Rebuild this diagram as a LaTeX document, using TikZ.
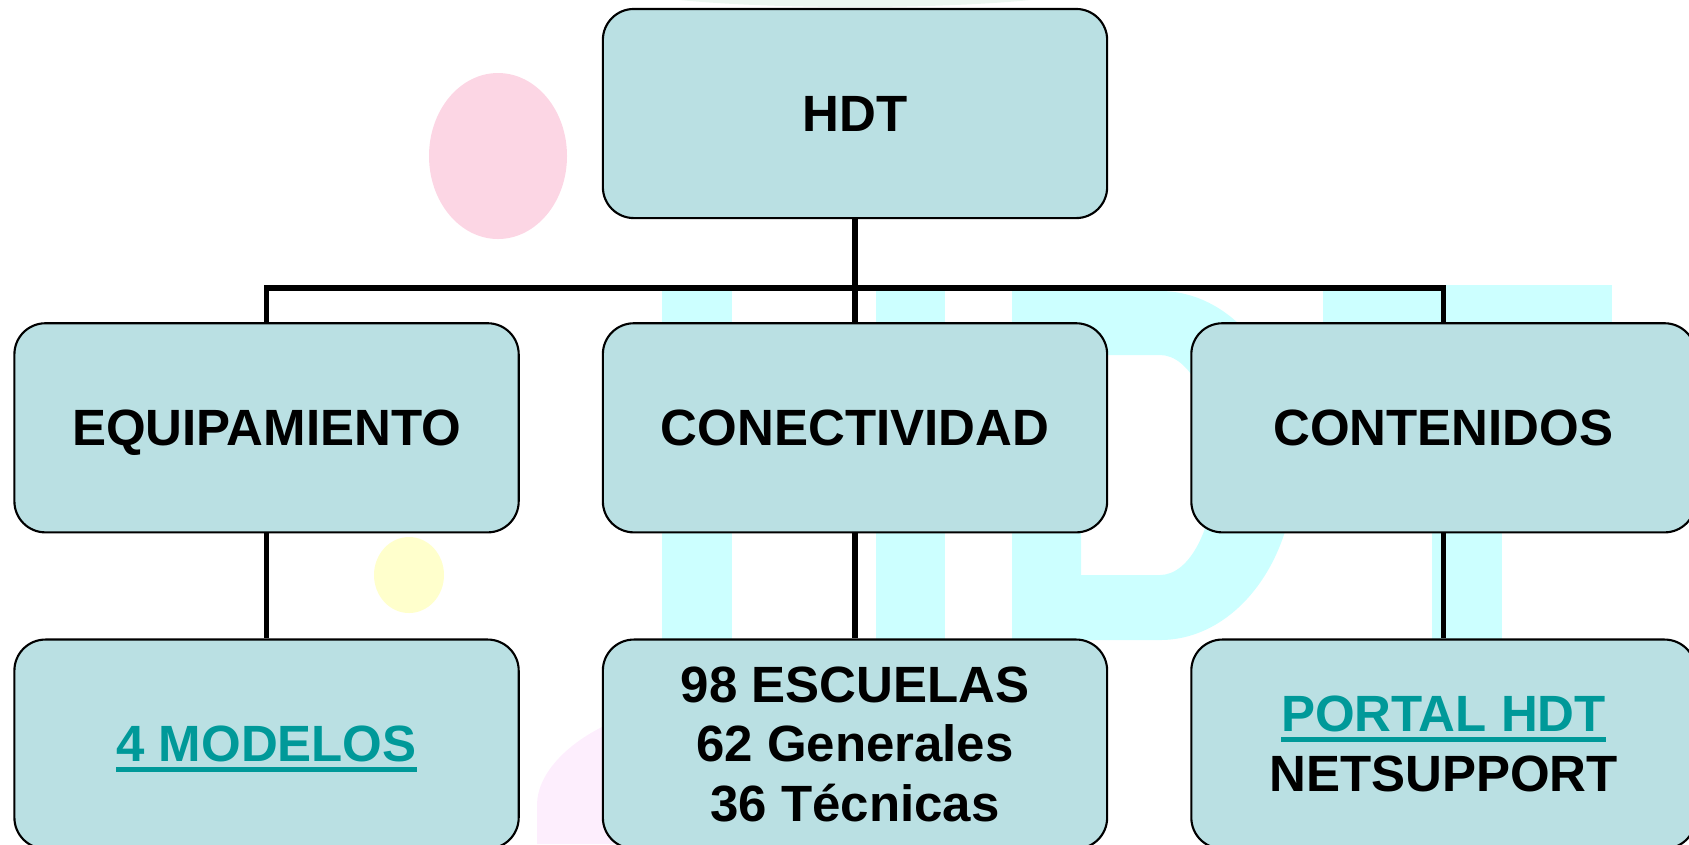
\documentclass[tikz,border=0pt]{standalone}
\usepackage{fontspec}
\setmainfont{Liberation Sans}
\usetikzlibrary{positioning}

\definecolor{boxfill}{RGB}{186,224,227}
\definecolor{linkteal}{RGB}{0,153,153}
\definecolor{markcyan}{RGB}{204,255,255}
\definecolor{markpink}{RGB}{252,214,228}
\definecolor{markyellow}{RGB}{255,255,204}
\definecolor{marklilac}{RGB}{253,238,253}
\definecolor{markgreen}{RGB}{236,246,240}
\newcommand{\hdtlink}[1]{\textcolor{linkteal}{\setbox0\hbox{#1}\rlap{\rule[-0.2em]{\wd0}{0.1em}}\box0}}

\begin{document}
\begin{tikzpicture}[
  x=0.01cm, y=-0.01cm,
  box/.style={draw, line width=0.6pt, fill=boxfill, rounded corners=0.31cm,
    minimum width=5.04cm, minimum height=2.09cm, align=center,
    font=\fontsize{14.5pt}{16.9pt}\selectfont\bfseries},
  oneline/.style={text depth=0pt},
  conn/.style={line width=1.45pt}
]
  \clip (0,0) rectangle (1689,844);

  % watermark
  \fill[markgreen] (855,-15) ellipse [x radius=240, y radius=22];
  \fill[markpink] (498,156) ellipse [x radius=69, y radius=83];
  \fill[markyellow] (409,575) ellipse [x radius=35, y radius=38];
  \fill[marklilac] (604,726) .. controls (565,745) and (537,775) .. (537,805) -- (537,844) -- (620,844) -- cycle;
  % H
  \fill[markcyan] (662,291) rectangle (732,640);
  \fill[markcyan] (876,291) rectangle (945,640);
  \fill[markcyan] (732,430) rectangle (876,500);
  % D
  \fill[markcyan, even odd rule]
    (1012,291) -- (1160,291) arc[start angle=-90, end angle=90, x radius=135, y radius=174.5] -- (1012,640) -- cycle
    (1081,355) -- (1160,355) arc[start angle=-90, end angle=90, x radius=55, y radius=110] -- (1081,575) -- cycle;
  % T
  \fill[markcyan] (1323,285) rectangle (1612,355);
  \fill[markcyan] (1432,355) rectangle (1502,640);

  % HDT
  \node[box, oneline] (hdt) at (855,113.5) {HDT};

  % areas
  \node[box, oneline, below=1.03cm of hdt] (conect) {CONECTIVIDAD};
  \node[box, oneline, left=0.82cm of conect] (equip) {EQUIPAMIENTO};
  \node[box, oneline, right=0.82cm of conect] (cont) {CONTENIDOS};

  % details
  \node[box, oneline, below=1.05cm of equip] (modelos) {\hdtlink{4 MODELOS}};
  \node[box, below=1.05cm of conect] (escuelas) {98 ESCUELAS\\62 Generales\\36 Técnicas};
  \node[box, below=1.05cm of cont] (portal) {\hdtlink{PORTAL HDT}\\NETSUPPORT};

  % connectors
  \coordinate (bus) at (855,288);
  \draw[conn] (hdt) -- (bus);
  \draw[conn] (equip) |- (bus) -| (cont);
  \draw[conn] (bus) -- (conect);
  \draw[conn] (equip) -- (modelos);
  \draw[conn] (conect) -- (escuelas);
  \draw[conn] (cont) -- (portal);
\end{tikzpicture}
\end{document}
